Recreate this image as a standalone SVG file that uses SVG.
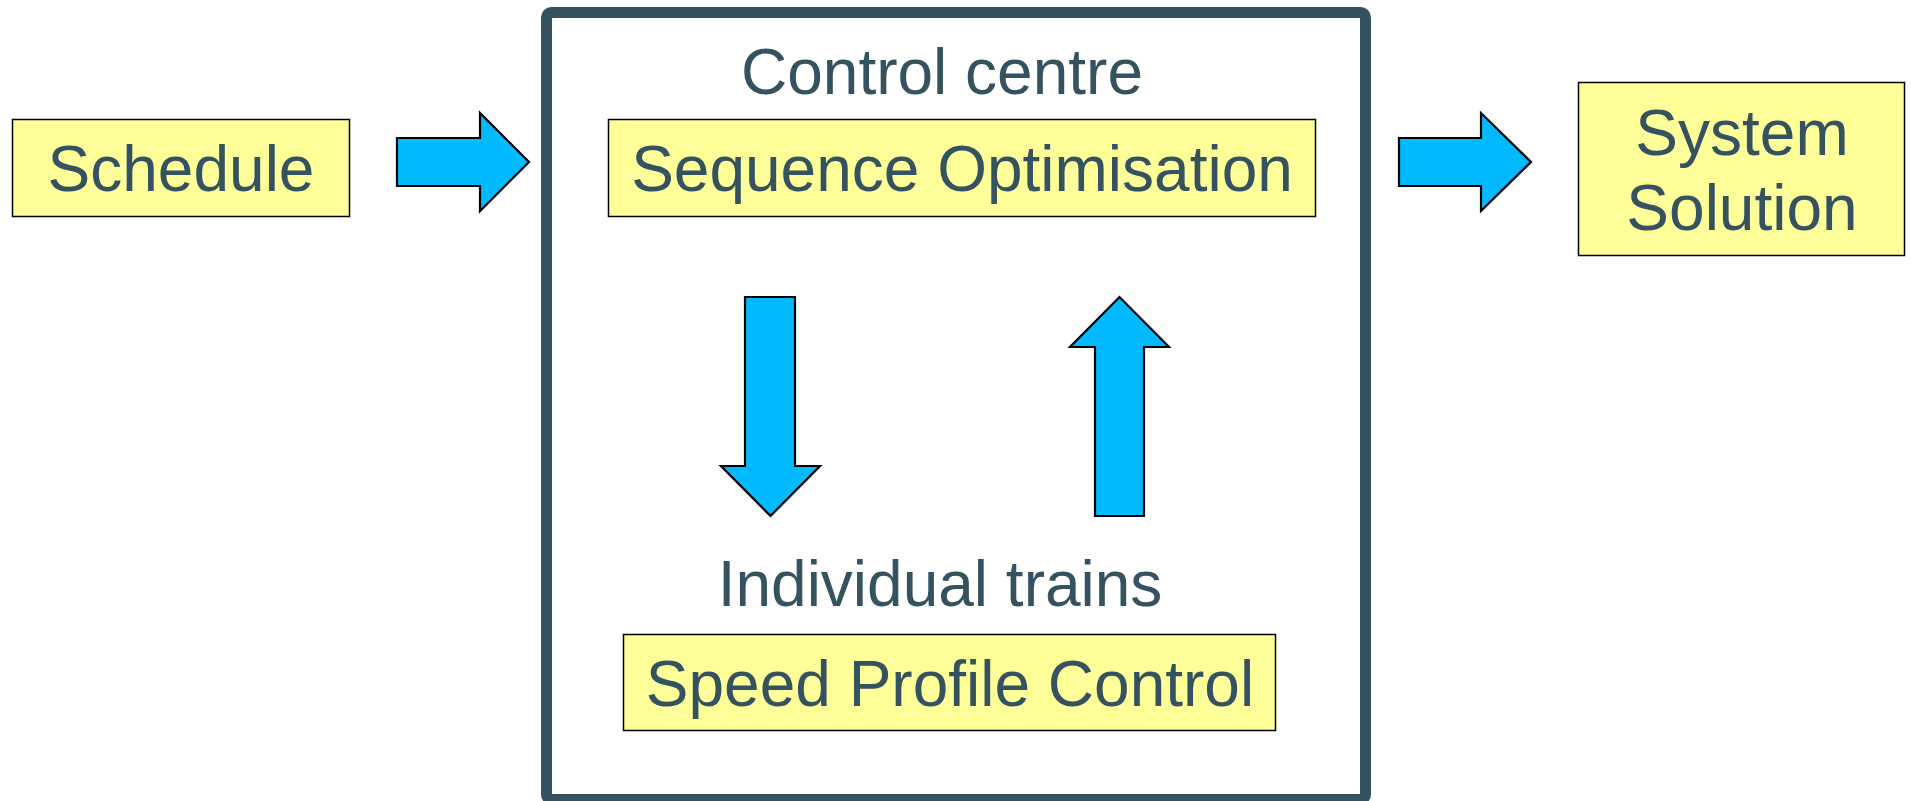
<svg xmlns="http://www.w3.org/2000/svg" width="1911" height="801" viewBox="0 0 1911 801">
<style>
.box{fill:#FFFF99;stroke:#000;stroke-width:1.5}
.arrow{fill:#00B9FF;stroke:#000;stroke-width:2.2;stroke-linejoin:miter}
.t{font-family:"Liberation Sans",Arial,sans-serif;font-size:64px;fill:#34525F;text-anchor:middle}
</style>
<rect width="1911" height="801" fill="#fff"/>
<g id="control-centre">
<rect x="546.5" y="12.5" width="819" height="787" rx="5" fill="none" stroke="#34525F" stroke-width="11"/>
<text class="t" x="942" y="94">Control centre</text>
<text class="t" x="940" y="606">Individual trains</text>
</g>
<g id="schedule">
<rect class="box" x="12.5" y="119.5" width="337" height="97"/>
<text class="t" x="181" y="191">Schedule</text>
</g>
<g id="sequence-optimisation">
<rect class="box" x="608.5" y="119.5" width="707" height="97"/>
<text class="t" x="962" y="191">Sequence Optimisation</text>
</g>
<g id="speed-profile-control">
<rect class="box" x="623.5" y="634.5" width="652" height="96"/>
<text class="t" x="950" y="706">Speed Profile Control</text>
</g>
<g id="system-solution">
<rect class="box" x="1578.5" y="82.5" width="326" height="173"/>
<text class="t" x="1742" y="155">System</text>
<text class="t" x="1742" y="230">Solution</text>
</g>
<g id="connectors">
<polygon class="arrow" points="397,138 480,138 480,113 529,162 480,211 480,186 397,186"/>
<polygon class="arrow" points="1399,138 1481,138 1481,113 1531,162 1481,211 1481,186 1399,186"/>
<polygon class="arrow" points="745,297 795,297 795,466 820,466 770.5,516 721,466 745,466"/>
<polygon class="arrow" points="1095,516 1144,516 1144,347 1169,347 1119.5,297 1070,347 1095,347"/>
</g>
</svg>
